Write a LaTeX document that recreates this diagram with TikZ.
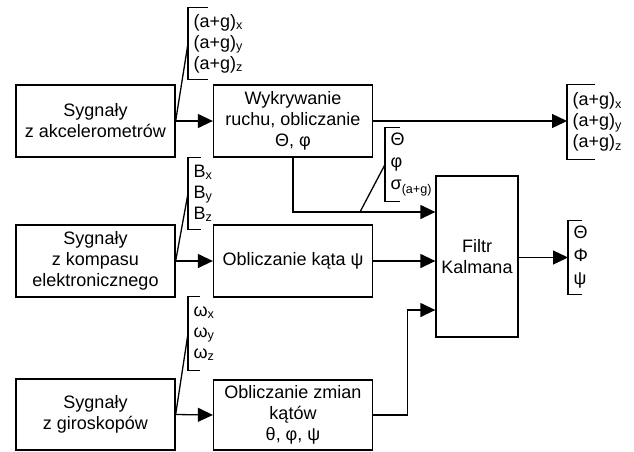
\documentclass[tikz,border=0pt]{standalone}
\usepackage{fontspec}
\setmainfont{Liberation Sans}
\usetikzlibrary{arrows.meta}

\begin{document}
\begin{tikzpicture}[x=1pt,y=-1pt,line width=1.3pt,>={Triangle[length=15pt,width=14pt]}]
	\tikzstyle{every node}=[font=\fontsize{18}{21}\selectfont]
	\tikzstyle{block}=[draw,rectangle,align=center,minimum width=159pt,minimum height=72pt,inner sep=2pt]
	\tikzstyle{vec}=[align=left,anchor=west,inner xsep=5pt,inner ysep=0pt,minimum height=72pt]
	\useasboundingbox (0,0) rectangle (634,451);
	\node[block] (acc) at (95.5,121) {Sygnały\\z akcelerometrów};
	\node[block] (det) at (293,121) {Wykrywanie\\ruchu, obliczanie\\Θ, φ};
	\node[block] (comp) at (95.5,261) {Sygnały\\z kompasu\\elektronicznego};
	\node[block] (psi) at (293,261) {Obliczanie kąta ψ};
	\node[block,minimum height=71pt] (gyro) at (95.5,414.5) {Sygnały\\z giroskopów};
	\node[block,minimum height=70pt] (chg) at (293,415) {Obliczanie zmian\\kątów\\θ, φ, ψ};
	\node[block,minimum width=82pt,minimum height=161pt] (kal) at (477,256.5) {Filtr\\Kalmana};
	\node[vec,minimum height=71pt] (accvec) at (188,43.5) {(a+g)\textsubscript{x}\\(a+g)\textsubscript{y}\\(a+g)\textsubscript{z}};
	\node[vec,minimum height=71pt] (bvec) at (188,193.5) {B\textsubscript{x}\\B\textsubscript{y}\\B\textsubscript{z}};
	\node[vec,minimum height=73pt] (wvec) at (188,333.5) {ω\textsubscript{x}\\ω\textsubscript{y}\\ω\textsubscript{z}};
	\node[vec,minimum height=73pt] (angvec) at (385,164.5) {Θ\\[1pt]φ\\[1pt]σ\textsubscript{(a+g)}};
	\node[vec,minimum height=74pt] (outacc) at (567,122) {(a+g)\textsubscript{x}\\(a+g)\textsubscript{y}\\(a+g)\textsubscript{z}};
	\node[vec,minimum height=73pt] (outang) at (568,257.5) {Θ\\[2pt]Φ\\[2pt]ψ};
	\foreach \v/\t in {accvec/20,bvec/13,wvec/12,angvec/15,outacc/28,outang/14}
		\draw ([xshift=\t]\v.north west) -- (\v.north west) -- (\v.south west) -- ([xshift=\t]\v.south west);
	\coordinate (kin1) at ([yshift=44.5pt]kal.west);
	\coordinate (kin3) at ([yshift=-53.5pt]kal.west);
	\coordinate (tap) at (360,212);
	\draw[->] (acc.east) -- (det.west);
	\draw (acc.east) -- (accvec.west);
	\draw[->] (comp.east) -- (psi.west);
	\draw (comp.east) -- (bvec.west);
	\draw[->] (gyro.east) -- (chg.west);
	\draw (gyro.east) -- (wvec.west);
	\draw[->] (det.east) -- (det.east -| outacc.west);
	\draw[->] (det.south) |- (kin1);
	\draw (tap) -- (angvec.west);
	\draw[->] (psi.east) -- (psi.east -| kal.west);
	\draw[->] (chg.east) -- ++(34,0) |- (kin3);
	\draw[->] (kal.east |- outang.west) -- (outang.west);
\end{tikzpicture}
\end{document}
